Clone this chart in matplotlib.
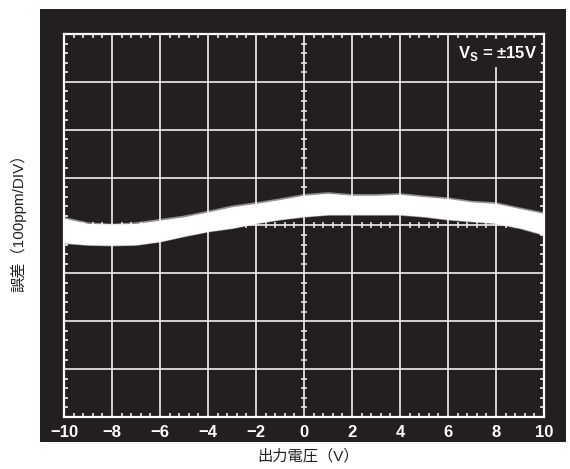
import numpy as np
import matplotlib
matplotlib.use("Agg")
import matplotlib.pyplot as plt
from matplotlib.patches import Rectangle
from matplotlib.ticker import MultipleLocator

plt.rcParams['font.family'] = ['Liberation Sans', 'Noto Sans CJK JP', 'DejaVu Sans']
plt.rcParams['mathtext.fontset'] = 'custom'
plt.rcParams['mathtext.rm'] = 'Liberation Sans'
plt.rcParams['mathtext.bf'] = 'Liberation Sans:bold'

# Output voltage (V) and the upper / lower edges of the error trace (ppm)
voltage = [-10, -9, -8, -7, -6, -5, -4, -3, -2, -1, 0,
           1, 2, 3, 4, 5, 6, 7, 8, 9, 10]
error_upper = [14, 3, 0, 3, 10, 17, 27, 38, 45, 53, 62,
               66, 62, 62, 64, 59, 55, 48, 45, 34, 24]
error_lower = [-35, -39, -40, -39, -32, -21, -11, -4, 6, 14, 20,
               24, 24, 24, 24, 20, 14, 10, 6, -4, -18]

x_ticks = [-10, -8, -6, -4, -2, 0, 2, 4, 6, 8, 10]
x_tick_labels = ['−10', '−8', '−6', '−4', '−2', '0', '2', '4', '6', '8', '10']

BG = '#231f20'
GRID = '#f0f0f0'

W, H = 570, 469
fig = plt.figure(figsize=(W / 100, H / 100), dpi=100)
fig.patch.set_facecolor('white')

# dark panel behind the graticule
fig.add_artist(Rectangle((40 / W, 1 - 442 / H), 526 / W, 433 / H,
                         transform=fig.transFigure, facecolor=BG,
                         edgecolor='none', zorder=0))

ax = fig.add_axes([64 / W, 1 - 417 / H, 480 / W, 383 / H])
ax.set_facecolor(BG)
ax.set_xlim(-10, 10)
ax.set_ylim(-400, 400)

ax.set_xticks(x_ticks)
ax.set_xticklabels(x_tick_labels)
ax.yaxis.set_major_locator(MultipleLocator(100))
ax.set_yticklabels([])
ax.xaxis.set_minor_locator(MultipleLocator(0.4))
ax.yaxis.set_minor_locator(MultipleLocator(20))
ax.tick_params(which='major', length=0, pad=6, labelsize=12,
               labelcolor='white')
ax.tick_params(which='minor', direction='in', length=3, width=1.1,
               color='white', top=True, right=True)
for lab in ax.get_xticklabels():
    lab.set_fontweight('bold')

ax.grid(True, which='major', color=GRID, linewidth=1.2, zorder=1)
ax.set_axisbelow(True)
for sp in ax.spines.values():
    sp.set_color('white')
    sp.set_linewidth(1.6)

# minor ticks along the centre cross
xm = np.arange(-10, 10.001, 0.4)
xm = xm[np.abs(np.round(xm / 2) * 2 - xm) > 1e-6]
ym = np.arange(-400, 400.001, 20)
ym = ym[np.abs(np.round(ym / 100) * 100 - ym) > 1e-6]
ax.plot(xm, np.zeros_like(xm), ls='none', marker='|', markersize=4.5,
        mew=1.1, color=GRID, zorder=2)
ax.plot(np.zeros_like(ym), ym, ls='none', marker='_', markersize=4.5,
        mew=1.1, color=GRID, zorder=2)

# the error trace, with a soft edge
for edge in (error_upper, error_lower):
    ax.plot(voltage, edge, color='white', lw=2.5, alpha=0.5,
            solid_capstyle='butt', zorder=3)
ax.fill_between(voltage, error_lower, error_upper, color='white',
                linewidth=0.8, edgecolor='white', zorder=3.5)

ax.text(0.985, 0.95, r'$\mathbf{V}_\mathbf{S}$ = ±15V', transform=ax.transAxes,
        ha='right', va='center', color='white', fontsize=12,
        fontweight='bold', zorder=4,
        bbox=dict(facecolor=BG, edgecolor='none', pad=3))

fig.text(308 / W, 1 - 456 / H, '出力電圧（V）', ha='center', va='center',
         fontsize=11, color='#231f20')
fig.text(18 / W, 1 - 219 / H, '誤差（100ppm/DIV）', ha='center', va='center',
         rotation=90, fontsize=11, color='#231f20')

fig.savefig('out.png', dpi=100, facecolor='white')
